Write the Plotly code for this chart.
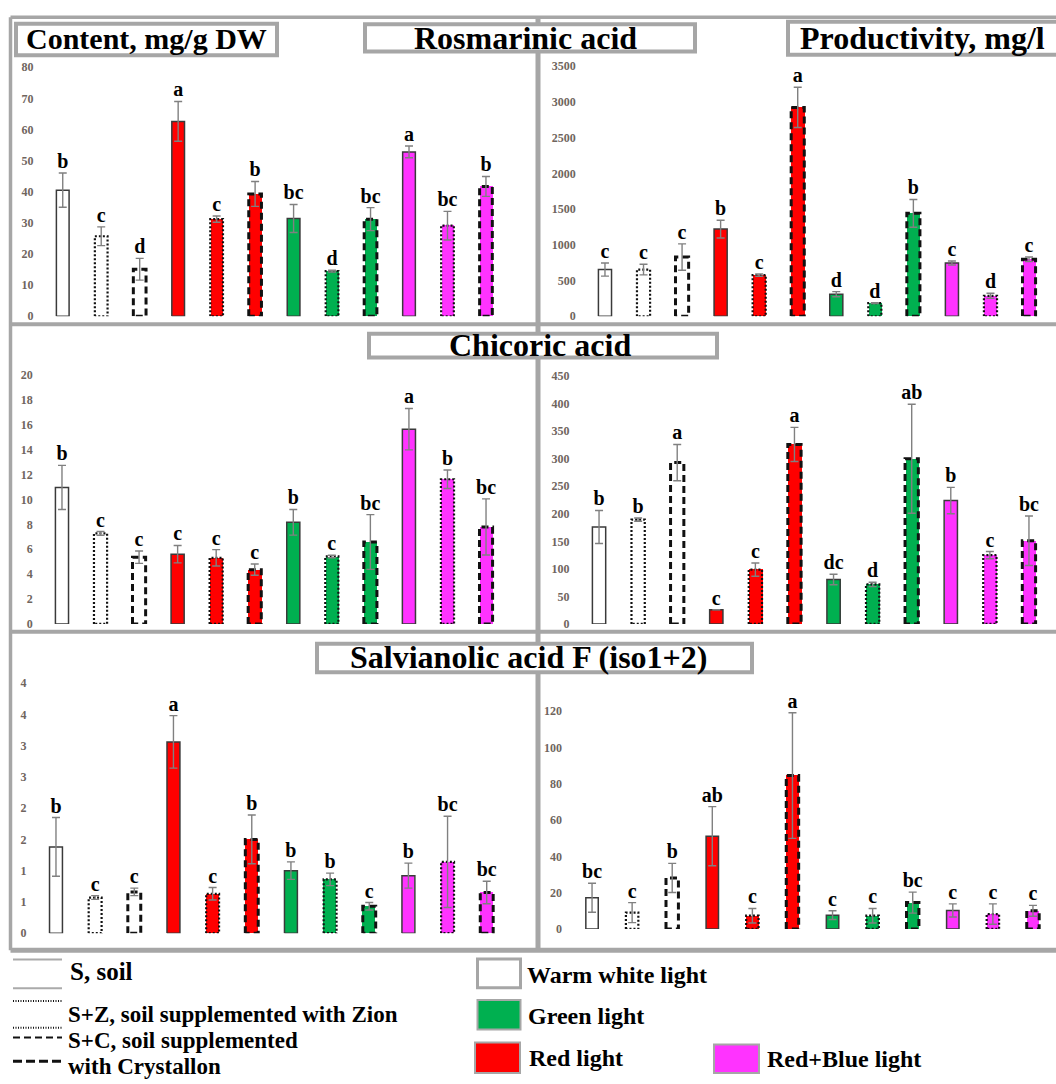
import plotly.graph_objects as go

W, H = 1056, 1084

# ---- categories -------------------------------------------------------
lights = ["Warm white light", "Red light", "Green light", "Red+Blue light"]
substrates = ["S", "S+Z", "S+C"]
light_colors = ["#ffffff", "#ff0000", "#00b050", "#ff33ff"]

# ---- values (12 bars per panel: light x substrate) ---------------------
ros_content = [40.5, 25.7, 15.1, 62.6, 31.2, 39.3, 31.4, 14.5, 31.2, 52.8, 29.1, 41.7]
ros_content_err = [5.5, 3.0, 3.5, 6.4, 1.0, 4.0, 4.5, 0.3, 3.7, 1.9, 4.6, 3.2]
ros_content_lbl = ["b", "c", "d", "a", "c", "b", "bc", "d", "bc", "a", "bc", "b"]

ros_prod = [654, 654, 829, 1220, 576, 2924, 309, 184, 1441, 746, 286, 797]
ros_prod_err = [92, 74, 184, 125, 15, 281, 36, 5, 194, 28, 36, 32]
ros_prod_lbl = ["c", "c", "c", "b", "c", "a", "d", "d", "b", "c", "d", "c"]

chic_content = [10.96, 7.27, 5.36, 5.6, 5.31, 4.36, 8.16, 5.42, 6.58, 15.64, 11.62, 7.79]
chic_content_err = [1.77, 0.15, 0.5, 0.7, 0.66, 0.45, 1.03, 0.1, 2.2, 1.66, 0.74, 2.25]
chic_content_lbl = ["b", "c", "c", "c", "c", "c", "b", "c", "bc", "a", "b", "bc"]

chic_prod = [176, 189.5, 293, 25.7, 98.6, 326, 80.7, 71.7, 300, 224, 125, 151]
chic_prod_err = [30, 3, 33, 0, 12, 31, 9.5, 4, 99, 24, 6.5, 45]
chic_prod_lbl = ["b", "b", "a", "c", "c", "a", "dc", "d", "ab", "b", "c", "bc"]

salv_content = [1.38, 0.57, 0.66, 3.06, 0.63, 1.5, 1.0, 0.86, 0.43, 0.92, 1.14, 0.65]
salv_content_err = [0.47, 0.03, 0.06, 0.42, 0.1, 0.39, 0.14, 0.1, 0.06, 0.2, 0.73, 0.18]
salv_content_lbl = ["b", "c", "c", "a", "c", "b", "b", "b", "c", "b", "bc", "bc"]

salv_prod = [17.2, 9.0, 28.1, 51.1, 7.3, 84.5, 7.6, 7.3, 14.5, 10.2, 8.2, 10.0]
salv_prod_err = [8.0, 5.5, 8.0, 16.3, 4.0, 34.6, 2.4, 4.0, 5.8, 3.6, 5.6, 3.0]
salv_prod_lbl = ["bc", "c", "b", "ab", "c", "a", "c", "c", "bc", "c", "c", "c"]

# tick labels
ros_content_ticks = [0, 10, 20, 30, 40, 50, 60, 70, 80]
ros_prod_ticks = [0, 500, 1000, 1500, 2000, 2500, 3000, 3500]
chic_content_ticks = [0, 2, 4, 6, 8, 10, 12, 14, 16, 18, 20]
chic_prod_ticks = [0, 50, 100, 150, 200, 250, 300, 350, 400, 450]
salv_content_ticks = [0, 0.5, 1, 1.5, 2, 2.5, 3, 3.5, 4]
salv_content_ticktext = ["0", "1", "1", "2", "2", "3", "3", "4", "4"]
salv_prod_ticks = [0, 20, 40, 60, 80, 100, 120]

# ---- panel layout (pixel boxes) -----------------------------------------
panels = [
    dict(v=ros_content, e=ros_content_err, l=ros_content_lbl, ticks=ros_content_ticks, ttext=None,
         ymax=80, x0=43.5, x1=505.2, ytop=61, ybot=313.3, bw=0.33),
    dict(v=ros_prod, e=ros_prod_err, l=ros_prod_lbl, ticks=ros_prod_ticks, ttext=None,
         ymax=3500, x0=585.7, x1=1048.3, ytop=60, ybot=313.3, bw=0.34),
    dict(v=chic_content, e=chic_content_err, l=chic_content_lbl, ticks=chic_content_ticks, ttext=None,
         ymax=20, x0=42.7, x1=505.3, ytop=372.7, ybot=625, bw=0.34),
    dict(v=chic_prod, e=chic_prod_err, l=chic_prod_lbl, ticks=chic_prod_ticks, ttext=None,
         ymax=450, x0=579.5, x1=1048.5, ytop=374, ybot=625, bw=0.34),
    dict(v=salv_content, e=salv_content_err, l=salv_content_lbl, ticks=salv_content_ticks,
         ttext=salv_content_ticktext, ymax=4, x0=36.4, x1=506.3, ytop=685, ybot=938.3, bw=0.33),
    dict(v=salv_prod, e=salv_prod_err, l=salv_prod_lbl, ticks=salv_prod_ticks, ttext=None,
         ymax=120, x0=572, x1=1053, ytop=713.3, ybot=934, bw=0.31),
]

SERIF = "'Liberation Serif', 'Times New Roman', Times, serif"
FRAME = "#a6a6a6"

outline_style = {
    "S": dict(color="#3a3a3a", width=1.5, dash="solid"),
    "S+Z": dict(color="#111111", width=2.2, dash="2px,2px"),
    "S+C": dict(color="#111111", width=3, dash="7px,4px"),
}


def px(x):
    return x / W


def py(y):
    return 1 - y / H


fig = go.Figure()
layout = {}

for k, p in enumerate(panels):
    n = k + 1
    xa = "x" if n == 1 else f"x{n}"
    ya = "y" if n == 1 else f"y{n}"
    xkey = "xaxis" if n == 1 else f"xaxis{n}"
    ykey = "yaxis" if n == 1 else f"yaxis{n}"

    idx = list(range(len(p["v"])))
    colors = [light_colors[i // 3] for i in idx]
    subs = [substrates[i % 3] for i in idx]

    # filled bars
    fig.add_trace(go.Bar(
        x=idx, y=p["v"], width=p["bw"], marker=dict(color=colors, line=dict(width=0)),
        xaxis=xa, yaxis=ya, showlegend=False, hoverinfo="skip",
    ))

    # bar outlines, one trace per substrate line style
    for s in substrates:
        xs, ys = [], []
        for i in idx:
            if subs[i] != s:
                continue
            h = p["bw"] / 2
            xs += [i - h, i - h, i + h, i + h, i - h, None]
            ys += [0, p["v"][i], p["v"][i], 0, 0, None]
        fig.add_trace(go.Scatter(
            x=xs, y=ys, mode="lines", line=outline_style[s], xaxis=xa, yaxis=ya,
            showlegend=False, hoverinfo="skip", cliponaxis=False,
        ))

    # standard deviation whiskers
    fig.add_trace(go.Scatter(
        x=idx, y=p["v"], mode="markers", marker=dict(size=1, color="rgba(0,0,0,0)"),
        error_y=dict(type="data", array=p["e"], visible=True, color="#808080", thickness=1.4, width=4),
        xaxis=xa, yaxis=ya, showlegend=False, hoverinfo="skip",
    ))

    # significance letters
    fig.add_trace(go.Scatter(
        x=idx, y=[v + e for v, e in zip(p["v"], p["e"])], mode="text", text=p["l"],
        textposition="top center", cliponaxis=False,
        textfont=dict(family=SERIF, size=20, color="#000000", weight="bold"),
        xaxis=xa, yaxis=ya, showlegend=False, hoverinfo="skip",
    ))

    layout[xkey] = dict(
        domain=[px(p["x0"]), px(p["x1"])], range=[-0.5, 11.5], anchor=ya,
        showticklabels=False, showgrid=False, zeroline=False, showline=False, ticks="",
    )
    ydict = dict(
        domain=[py(p["ybot"]), py(p["ytop"])], range=[0, p["ymax"]], anchor=xa,
        showgrid=False, zeroline=False, showline=False, ticks="",
        tickmode="array", tickvals=p["ticks"], ticklabelstandoff=9,
        tickfont=dict(family=SERIF, size=12, color="#6f655e", weight="bold"),
    )
    if p["ttext"] is not None:
        ydict["ticktext"] = p["ttext"]
    layout[ykey] = ydict

shapes = []


def line(x0, y0, x1, y1, color=FRAME, width=4, dash="solid"):
    shapes.append(dict(type="line", xref="paper", yref="paper", x0=px(x0), y0=py(y0), x1=px(x1),
                       y1=py(y1), line=dict(color=color, width=width, dash=dash), layer="below"))


def box(x0, y0, x1, y1, fill="#ffffff", color=FRAME, width=4):
    shapes.append(dict(type="rect", xref="paper", yref="paper", x0=px(x0), y0=py(y0), x1=px(x1),
                       y1=py(y1), fillcolor=fill, line=dict(color=color, width=width), layer="above"))


# panel frame
line(10.5, 10.5, 1060, 10.5, width=3.5)
line(10.5, 10.5, 10.5, 955.5, width=3.5)
line(538, 10.5, 538, 955.5, width=5)
line(10.5, 321.5, 1060, 321.5)
line(10.5, 633, 1060, 633)
line(10.5, 955.5, 1060, 955.5, width=5)

# title boxes
box(16, 17, 277, 49)
box(365, 17.5, 695, 45)
box(788, 15, 1070, 48.5)
box(369, 331, 717, 355)
box(317, 645, 752, 674)

annotations = []


def label(text, x, y, size, xanchor="center"):
    annotations.append(dict(text=f"<b>{text}</b>", x=px(x), y=py(y), xref="paper", yref="paper",
                            xanchor=xanchor, yanchor="middle", showarrow=False,
                            font=dict(family=SERIF, size=size, color="#000000")))


label("Content, mg/g DW", 146.5, 31.5, 30)
label("Rosmarinic acid", 525.5, 31.5, 32)
label("Productivity, mg/l", 922, 31.5, 32)
label("Chicoric acid", 539.5, 342.5, 32)
label("Salvianolic acid F (iso1+2)", 529, 659, 32)

# substrate legend (line styles)
line(13, 965, 62, 965, color="#aaaaaa", width=2)
line(13, 994, 62, 994, color="#aaaaaa", width=2)
line(13, 1007, 62, 1007, color="#111111", width=2, dash="1px,1.5px")
line(13, 1034, 62, 1034, color="#111111", width=2, dash="1px,1.5px")
line(13, 1044, 62, 1044, color="#111111", width=2, dash="7px,4px")
line(13, 1068, 62, 1068, color="#111111", width=3, dash="9px,4px")
label("S, soil", 68, 977, 25, xanchor="left")
label("S+Z, soil supplemented with Zion", 66, 1021, 23, xanchor="left")
label("S+C, soil supplemented", 66, 1047, 23, xanchor="left")
label("with Crystallon", 66, 1073.5, 23, xanchor="left")

# light legend (colour swatches)
box(477.5, 964.5, 520.5, 993.5, fill=light_colors[0], width=3)
box(477.5, 1006, 520.5, 1036, fill=light_colors[2], width=2)
box(475, 1049, 520, 1080, fill=light_colors[1], width=2)
box(714, 1051, 759, 1080, fill=light_colors[3], width=2)
label(lights[0], 525, 981, 24, xanchor="left")
label(lights[2], 526, 1022, 24, xanchor="left")
label(lights[1], 527, 1065, 24, xanchor="left")
label(lights[3], 765, 1066, 24, xanchor="left")

fig.update_layout(
    width=W, height=H, margin=dict(l=0, r=0, t=0, b=0),
    paper_bgcolor="#ffffff", plot_bgcolor="rgba(0,0,0,0)",
    shapes=shapes, annotations=annotations, showlegend=False, bargap=0,
    **layout,
)

fig.write_html("out.html")
